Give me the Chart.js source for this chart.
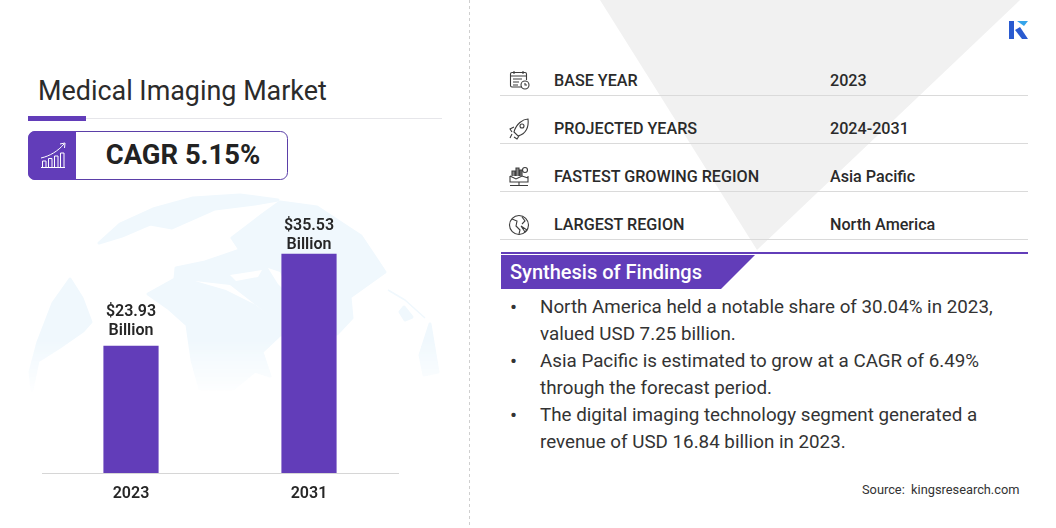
<!DOCTYPE html>
<html>
<head>
<meta charset="utf-8">
<title>Medical Imaging Market</title>
<script src="https://cdn.jsdelivr.net/npm/chart.js@4"></script>
<style>
    html, body { margin: 0; padding: 0; background: #fff; }
    body { width: 1056px; height: 528px; position: relative; overflow: hidden; font-family: Roboto, sans-serif; color: #262626; }
    .abs { position: absolute; }
    #backdrop { left: 0; top: 0; }
    #chartBox { left: 0; top: 190px; width: 470px; height: 338px; }
    .title { left: 38px; top: 73px; font-size: 26.9px; line-height: 36px; color: #2b2b2b; white-space: nowrap; }
    .cagr { left: 77px; top: 131px; width: 212px; height: 49px; line-height: 48px; text-align: center; font-size: 27.4px; font-weight: 700; color: #222; }
    .row-label, .row-value { font-size: 16.15px; font-weight: 500; line-height: 20px; color: #2a2a2a; white-space: nowrap; }
    .row-label { left: 554px; }
    .row-value { left: 830px; }
    .banner { left: 510px; top: 259px; font-size: 20px; line-height: 26px; font-weight: 500; color: #fff; white-space: nowrap; }
    .bullet { font-size: 18.8px; line-height: 26px; color: #333; white-space: nowrap; }
    .dot { left: 510px; font-size: 21px; line-height: 26px; color: #333; }
    .source { left: 862px; top: 481px; font-size: 12.8px; line-height: 17px; color: #333; white-space: nowrap; }
</style>
</head>
<body>
<svg id="backdrop" class="abs" width="1056" height="528" viewBox="0 0 1056 528">
    <defs>
        <linearGradient id="fade" gradientUnits="userSpaceOnUse" x1="0" y1="340" x2="0" y2="398">
            <stop offset="0" stop-color="#fff"/>
            <stop offset="1" stop-color="#fff" stop-opacity="0"/>
        </linearGradient>
        <mask id="globeFade"><rect x="0" y="180" width="470" height="230" fill="url(#fade)"/></mask>
    </defs>
    <!-- grey wedge behind the info table -->
    <polygon points="600,0 1020,0 757,250" fill="#f1f1f1"/>
    <!-- globe watermark -->
    <g fill="#f0f8fd" stroke="#f0f8fd" stroke-width="3" stroke-linejoin="round" mask="url(#globeFade)">
        <path d="M70,279 L82,298 L91,322 L83,331 L60,347 L38,361 L32,390 L30,372 L38,342 L53,303 Z"/>
        <path d="M99,243 L120,224 L153,209 L193,198 L240,195 L278,200 L255,204 L215,209 L172,228 L150,224 L122,236 Z"/>
        <path d="M148,294 L175,279 L176,268 L205,262 L240,250 L232,238 L262,215 L280,202 L317,207 L361,236 L385,272 L350,297 L352,318 L337,334 L280,335 L262,352 L270,376 L255,371 L233,389 L200,389 L192,360 L187,325 L168,308 Z"/>
        <path d="M430,324 L438,372 L424,375 L420,355 Z"/>
        <path d="M404,307 L412,317 L405,320 L400,312 Z"/>
        <path d="M388,290 L405,300 L425,318" fill="none" stroke-width="1.5"/>
    </g>
    <g fill="#fff">
        <path d="M230,275 L262,270 L258,277 L236,281 Z"/>
        <path d="M195,281 L230,285 L262,310 L272,318 L256,305 L226,290 Z"/>
        <path d="M268,268 L280,272 L290,296 L278,284 Z"/>
    </g>

    <!-- left column rules and CAGR box -->
    <line x1="28" y1="118.5" x2="442" y2="118.5" stroke="#e6e6ea"/>
    <rect x="28" y="116" width="58" height="5" fill="#623db9"/>
    <rect x="28.5" y="131.5" width="259" height="48" rx="7" fill="#fff" stroke="#5b3fa8"/>
    <path d="M76,131 H35 a7,7 0 0 0 -7,7 V173 a7,7 0 0 0 7,7 H76 Z" fill="#623db9"/>
    <g stroke="#fff" fill="none" stroke-width="1">
        <path d="M41,167.5 H65"/>
        <path d="M42.5,167 V161 H46 V167 M48.5,167 V158.5 H52 V167 M54.5,167 V156 H58 V167 M60.5,167 V153 H64 V167"/>
        <path d="M41,158 C50,156 58,151 64,144 M60,144 L65,143 L64.5,148"/>
    </g>

    <!-- divider between the columns -->
    <line x1="469.5" y1="0" x2="469.5" y2="528" stroke="#cfcfcf" stroke-dasharray="3 3"/>

    <!-- logo -->
    <rect x="1009" y="21" width="5" height="18" fill="#2a5bd0"/>
    <polygon points="1015,30 1022,39 1028,39 1020,27" fill="#2a5bd0"/>
    <polygon points="1017,21 1028,21 1024,26" fill="#35a4ea"/>

    <!-- table rules -->
    <g stroke="#dadada">
        <line x1="500" y1="95.5" x2="1028" y2="95.5"/>
        <line x1="500" y1="143.5" x2="1028" y2="143.5"/>
        <line x1="500" y1="191.5" x2="1028" y2="191.5"/>
        <line x1="500" y1="239.5" x2="1028" y2="239.5"/>
    </g>
    <rect x="501" y="252" width="527" height="2" fill="#623db9"/>
    <polygon points="501,255 755,255 721,289 501,289" fill="#623db9"/>

    <!-- table icons -->
    <g stroke="#3c3c3c" fill="none" stroke-width="1.1">
        <path d="M522,87 H512 a1.5,1.5 0 0 1 -1.5,-1.5 V74 a1.5,1.5 0 0 1 1.5,-1.5 H525 a1.5,1.5 0 0 1 1.5,1.5 V80"/>
        <path d="M510.5,76 H526.5 M514,71 V74 M523,71 V74 M513,79 H522 M513,82 H519 M513,85 H518"/>
        <circle cx="525" cy="85" r="4"/><path d="M525,83 V85 H527"/>
        <path d="M528,119 C523,119 516,124 514,132 L518,136 C526,134 529,127 528,119 Z"/>
        <circle cx="522" cy="126" r="2"/>
        <path d="M514,127 L510,129 L512,132 M519,136 L517,139 L514,137 M512,134 L510,138"/>
        <path d="M510,185.5 H528 M510,176 V182 H528 V176 M510,176 L516,179 L522,176 L528,178 M519,182 V185"/>
        <path d="M512,176 V171 H515 V176 M516,176 V168 H519 V176 M520,176 V170 H522 V176" fill="#8a8a8a"/>
        <circle cx="525" cy="170" r="2.5"/>
        <circle cx="519" cy="225" r="9.5"/>
        <path d="M512,219 L517,221 L516,226 L520,230 L519,234 M522,217 L525,221 L522,224 M521,226 L527,230 L525,232 Z"/>
    </g>
</svg>

<div class="abs title">Medical Imaging Market</div>
<div class="abs cagr">CAGR 5.15%</div>
<div id="infoRows"></div>
<div class="abs banner">Synthesis of Findings</div>
<div id="findings"></div>
<div class="abs source">Source:&nbsp; kingsresearch.com</div>

<div id="chartBox" class="abs"><canvas id="marketChart" width="470" height="338"></canvas></div>

<script>
const years = ["2023", "2031"];
const marketValues = [23.93, 35.53];
const valueLines = [["$23.93", "Billion"], ["$35.53", "Billion"]];

const infoLabels = ["BASE YEAR", "PROJECTED YEARS", "FASTEST GROWING REGION", "LARGEST REGION"];
const infoValues = ["2023", "2024-2031", "Asia Pacific", "North America"];

const findingLines = [
    "North America held a notable share of 30.04% in 2023,",
    "valued USD 7.25 billion.",
    "Asia Pacific is estimated to grow at a CAGR of 6.49%",
    "through the forecast period.",
    "The digital imaging technology segment generated a",
    "revenue of USD 16.84 billion in 2023."
];
const bulletLines = [0, 2, 4];

// side panel text
const infoRoot = document.getElementById("infoRows");
infoLabels.forEach((label, i) => {
    const top = 71 + i * 48;
    infoRoot.innerHTML += `<div class="abs row-label" style="top:${top}px">${label}</div>
        <div class="abs row-value" style="top:${top}px">${infoValues[i]}</div>`;
});

const findingsRoot = document.getElementById("findings");
findingLines.forEach((line, i) => {
    const top = 294 + Math.round(i * 26.9);
    findingsRoot.innerHTML += `<div class="abs bullet" style="left:540px;top:${top}px">${line}</div>`;
    if (bulletLines.includes(i)) {
        findingsRoot.innerHTML += `<div class="abs dot" style="top:${top}px">•</div>`;
    }
});

// the taller bar's label sits closer to its bar in the source
const barLabels = {
    id: "barLabels",
    afterDatasetsDraw(chart) {
        const { ctx } = chart;
        ctx.save();
        ctx.font = "600 16px Roboto";
        ctx.fillStyle = "#262626";
        ctx.textAlign = "center";
        ctx.textBaseline = "middle";
        chart.getDatasetMeta(0).data.forEach((bar, i) => {
            const lift = i === 0 ? 15 : 9;
            ctx.fillText(valueLines[i][0], bar.x, bar.y - lift - 19);
            ctx.fillText(valueLines[i][1], bar.x, bar.y - lift);
        });
        ctx.restore();
    },
};

new Chart(document.getElementById("marketChart"), {
    type: "bar",
    data: {
        labels: years,
        datasets: [{
            data: marketValues,
            backgroundColor: "#623db9",
            barPercentage: 0.31,
            categoryPercentage: 1,
        }],
    },
    options: {
        responsive: false,
        animation: false,
        layout: { padding: { left: 42, right: 72, top: 10, bottom: 0 } },
        plugins: { legend: { display: false }, tooltip: { enabled: false } },
        scales: {
            x: {
                afterFit(scale) { scale.height = 55; },
                grid: { display: false, drawTicks: false },
                border: { color: "#d6d6d6", width: 1 },
                ticks: {
                    color: "#262626",
                    padding: 11,
                    maxRotation: 0,
                    font: { family: "Roboto", size: 16, weight: "600" },
                },
            },
            // axis does not start at zero in the source picture
            y: { display: false, min: 7.92, max: 42.3 },
        },
    },
    plugins: [barLabels],
});
</script>
</body>
</html>
